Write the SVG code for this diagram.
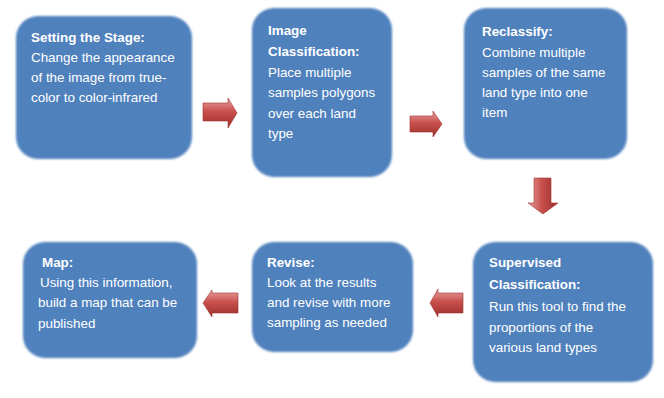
<svg xmlns="http://www.w3.org/2000/svg" width="664" height="398" viewBox="0 0 664 398">
<style>
.box{fill:#4F81BD;filter:url(#soft)}
.t{font-family:"Liberation Sans",Arial,sans-serif;font-size:13.4px;fill:#FFFFFF}
.b{font-weight:bold}
.arrH{fill:url(#gH);stroke:#9E3431;stroke-width:0.6}
.arrV{fill:url(#gV);stroke:#9E3431;stroke-width:0.6}
</style>
<defs>
<filter id="soft" x="-5%" y="-5%" width="110%" height="110%"><feGaussianBlur stdDeviation="0.9"/></filter>
<linearGradient id="gH" x1="0" y1="0" x2="0" y2="1">
<stop offset="0" stop-color="#E7A3A1"/>
<stop offset="0.45" stop-color="#C9504D"/>
<stop offset="1" stop-color="#9B2E2B"/>
</linearGradient>
<linearGradient id="gV" x1="0" y1="0" x2="1" y2="0">
<stop offset="0" stop-color="#E7A3A1"/>
<stop offset="0.45" stop-color="#C9504D"/>
<stop offset="1" stop-color="#9B2E2B"/>
</linearGradient>
</defs>
<rect width="664" height="398" fill="#FFFFFF"/>

<g id="n1">
<rect class="box" x="16" y="16" width="176" height="143" rx="22"/>
<text class="t"><tspan class="b" x="31" y="42">Setting the Stage:</tspan><tspan x="31" y="62">Change the appearance</tspan><tspan x="31" y="82">of the image from true-</tspan><tspan x="31" y="102">color to color-infrared</tspan></text>
</g>

<g id="n2">
<rect class="box" x="252" y="8" width="140" height="169" rx="22"/>
<text class="t"><tspan class="b" x="268" y="35">Image</tspan><tspan class="b" x="268" y="56">Classification:</tspan><tspan x="268" y="77">Place multiple</tspan><tspan x="268" y="97">samples polygons</tspan><tspan x="268" y="118">over each land</tspan><tspan x="268" y="138">type</tspan></text>
</g>

<g id="n3">
<rect class="box" x="464" y="8" width="163" height="151" rx="22"/>
<text class="t"><tspan class="b" x="482" y="36">Reclassify:</tspan><tspan x="482" y="57">Combine multiple</tspan><tspan x="482" y="77">samples of the same</tspan><tspan x="482" y="97">land type into one</tspan><tspan x="482" y="117">item</tspan></text>
</g>

<g id="n4">
<rect class="box" x="473" y="242" width="180" height="140" rx="22"/>
<text class="t"><tspan class="b" x="489" y="267">Supervised</tspan><tspan class="b" x="489" y="289">Classification:</tspan><tspan x="489" y="311">Run this tool to find the</tspan><tspan x="489" y="332">proportions of the</tspan><tspan x="489" y="352">various land types</tspan></text>
</g>

<g id="n5">
<rect class="box" x="252" y="242" width="161" height="110" rx="22"/>
<text class="t"><tspan class="b" x="267" y="267">Revise:</tspan><tspan x="267" y="287">Look at the results</tspan><tspan x="267" y="307">and revise with more</tspan><tspan x="267" y="327">sampling as needed</tspan></text>
</g>

<g id="n6">
<rect class="box" x="23" y="242" width="174" height="116" rx="22"/>
<text class="t"><tspan class="b" x="42" y="267">Map:</tspan><tspan x="40" y="287">Using this information,</tspan><tspan x="38" y="307">build a map that can be</tspan><tspan x="38" y="328">published</tspan></text>
</g>

<g id="connectors">
<path class="arrH" d="M203,103 H228 V98 L237,113 L228,128 V121 H203 Z"/>
<path class="arrH" d="M410,116 H433 V111 L442,124 L433,137 V132 H410 Z"/>
<path class="arrV" d="M534,178 H551 V203 H558 L543,214 L528,203 H534 Z"/>
<path class="arrH" d="M463,293 H438 V289 L430,303 L438,317 V313 H463 Z"/>
<path class="arrH" d="M238,293 H212 V290 L203,303 L212,317 V313 H238 Z"/>
</g>
</svg>
